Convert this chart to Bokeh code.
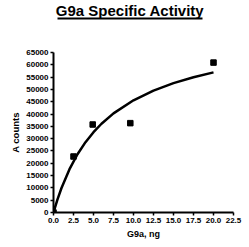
from bokeh.plotting import figure
from bokeh.layouts import column
from bokeh.models import (Range1d, FixedTicker, PrintfTickFormatter, Label,
                          BoxAnnotation)
from bokeh.embed import file_html
from bokeh.resources import INLINE

# measured data
g9a_ng = [0.0, 2.5, 4.9, 9.6, 20.0]
a_counts = [0, 22750, 35750, 36300, 60900]

# fitted curve
curve_x = [0.0, 0.5, 1.0, 2.0, 3.0, 4.0, 5.0, 6.0, 7.5, 10.0, 12.5, 15.0, 17.5, 20.0]
curve_y = [0, 5330, 9960, 17600, 23660, 28570, 32630, 36050, 40270, 45600,
           49540, 52570, 54970, 56920]

x_ticks = [0, 2.5, 5, 7.5, 10, 12.5, 15, 17.5, 20, 22.5]
y_ticks = list(range(0, 65001, 5000))

TITLE = "G9a Specific Activity"
FONT = "Liberation Sans"

# ---- title strip (data units == pixels from the frame's left edge) ----
t = figure(width=249, height=42, output_backend="svg", toolbar_location=None,
           x_range=Range1d(0, 180), y_range=Range1d(0, 42),
           min_border_left=53, min_border_right=16, min_border_top=0,
           min_border_bottom=0)
t.axis.visible = False
t.grid.visible = False
t.outline_line_color = None
t.add_layout(Label(x=76.5, y=32, text=TITLE, text_font=FONT,
                   text_font_style="bold", text_font_size="15px",
                   text_align="center", text_baseline="alphabetic",
                   text_color="black"))
t.add_layout(BoxAnnotation(left=4, right=149, bottom=23, top=25,
                           fill_color="black", fill_alpha=1, line_color=None))

# ---- main chart ----
p = figure(width=249, height=205, output_backend="svg", toolbar_location=None,
           x_range=Range1d(0, 22.5), y_range=Range1d(0, 65000),
           min_border_left=53, min_border_right=16, min_border_top=10,
           min_border_bottom=35)
p.outline_line_color = None
p.xgrid.visible = False
p.ygrid.visible = False

p.line(curve_x, curve_y, line_color="black", line_width=2.5)
p.scatter(g9a_ng, a_counts, marker="square", size=5.5, color="black")

for ax in (p.xaxis[0], p.yaxis[0]):
    ax.axis_line_width = 2
    ax.axis_line_color = "black"
    ax.major_tick_line_width = 1.5
    ax.major_tick_out = 3
    ax.major_tick_in = 0
    ax.minor_tick_out = 0
    ax.minor_tick_in = 0
    ax.major_label_text_font = FONT
    ax.major_label_text_font_style = "bold"
    ax.major_label_text_font_size = "8px"
    ax.major_label_text_color = "black"
    ax.major_label_standoff = 2
    ax.axis_label_text_font = FONT
    ax.axis_label_text_font_style = "bold"
    ax.axis_label_text_color = "black"

p.xaxis.ticker = FixedTicker(ticks=x_ticks)
p.xaxis.formatter = PrintfTickFormatter(format="%.1f")
p.yaxis.ticker = FixedTicker(ticks=y_ticks)
p.yaxis.formatter = PrintfTickFormatter(format="%d")
p.xaxis.axis_label = "G9a, ng"
p.xaxis.axis_label_text_font_size = "9px"
p.xaxis.axis_label_standoff = 3
p.yaxis.axis_label = "A counts"
p.yaxis.axis_label_text_font_size = "9.5px"
p.yaxis.axis_label_standoff = 2

layout = column(t, p, spacing=0)
out = file_html(layout, INLINE)
open("out.html", "w").write(out)
